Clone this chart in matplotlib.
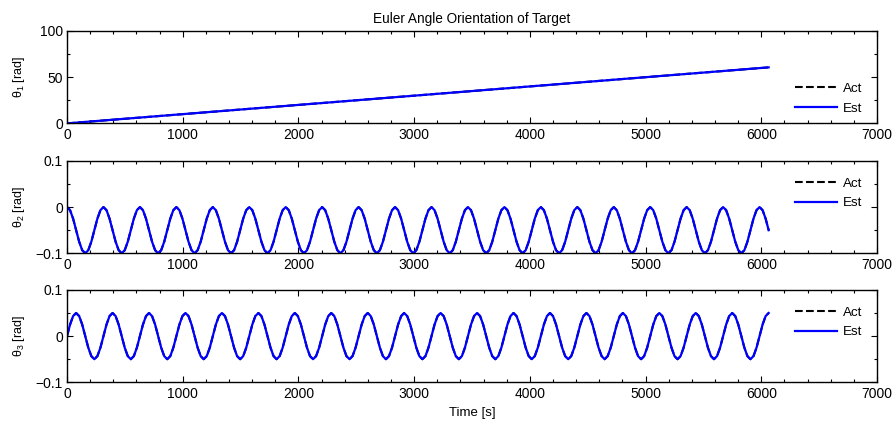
import matplotlib
matplotlib.use("Agg")
import matplotlib.pyplot as plt
from matplotlib.ticker import MultipleLocator, FuncFormatter

plt.rcParams['font.family'] = ['Liberation Sans', 'DejaVu Sans']
plt.rcParams['mathtext.default'] = 'regular'
plt.rcParams['font.size'] = 10

# theta1 : straight ramp
t1 = [0, 6063.75]
theta1_act = [0, 60.6]
theta1_est = [0, 60.6]

# time samples (one period per line, ~315 s period)
t = [
    0, 26.25, 52.5, 78.75, 105, 131.25, 157.5, 183.75, 210, 236.25, 262.5, 288.75,
    315, 341.25, 367.5, 393.75, 420, 446.25, 472.5, 498.75, 525, 551.25, 577.5, 603.75,
    630, 656.25, 682.5, 708.75, 735, 761.25, 787.5, 813.75, 840, 866.25, 892.5, 918.75,
    945, 971.25, 997.5, 1023.75, 1050, 1076.25, 1102.5, 1128.75, 1155, 1181.25, 1207.5, 1233.75,
    1260, 1286.25, 1312.5, 1338.75, 1365, 1391.25, 1417.5, 1443.75, 1470, 1496.25, 1522.5, 1548.75,
    1575, 1601.25, 1627.5, 1653.75, 1680, 1706.25, 1732.5, 1758.75, 1785, 1811.25, 1837.5, 1863.75,
    1890, 1916.25, 1942.5, 1968.75, 1995, 2021.25, 2047.5, 2073.75, 2100, 2126.25, 2152.5, 2178.75,
    2205, 2231.25, 2257.5, 2283.75, 2310, 2336.25, 2362.5, 2388.75, 2415, 2441.25, 2467.5, 2493.75,
    2520, 2546.25, 2572.5, 2598.75, 2625, 2651.25, 2677.5, 2703.75, 2730, 2756.25, 2782.5, 2808.75,
    2835, 2861.25, 2887.5, 2913.75, 2940, 2966.25, 2992.5, 3018.75, 3045, 3071.25, 3097.5, 3123.75,
    3150, 3176.25, 3202.5, 3228.75, 3255, 3281.25, 3307.5, 3333.75, 3360, 3386.25, 3412.5, 3438.75,
    3465, 3491.25, 3517.5, 3543.75, 3570, 3596.25, 3622.5, 3648.75, 3675, 3701.25, 3727.5, 3753.75,
    3780, 3806.25, 3832.5, 3858.75, 3885, 3911.25, 3937.5, 3963.75, 3990, 4016.25, 4042.5, 4068.75,
    4095, 4121.25, 4147.5, 4173.75, 4200, 4226.25, 4252.5, 4278.75, 4305, 4331.25, 4357.5, 4383.75,
    4410, 4436.25, 4462.5, 4488.75, 4515, 4541.25, 4567.5, 4593.75, 4620, 4646.25, 4672.5, 4698.75,
    4725, 4751.25, 4777.5, 4803.75, 4830, 4856.25, 4882.5, 4908.75, 4935, 4961.25, 4987.5, 5013.75,
    5040, 5066.25, 5092.5, 5118.75, 5145, 5171.25, 5197.5, 5223.75, 5250, 5276.25, 5302.5, 5328.75,
    5355, 5381.25, 5407.5, 5433.75, 5460, 5486.25, 5512.5, 5538.75, 5565, 5591.25, 5617.5, 5643.75,
    5670, 5696.25, 5722.5, 5748.75, 5775, 5801.25, 5827.5, 5853.75, 5880, 5906.25, 5932.5, 5958.75,
    5985, 6011.25, 6037.5, 6063.75,
]

theta2 = [
    0, -0.0067, -0.025, -0.05, -0.075, -0.0933, -0.1, -0.0933, -0.075, -0.05, -0.025, -0.0067,
    0, -0.0067, -0.025, -0.05, -0.075, -0.0933, -0.1, -0.0933, -0.075, -0.05, -0.025, -0.0067,
    0, -0.0067, -0.025, -0.05, -0.075, -0.0933, -0.1, -0.0933, -0.075, -0.05, -0.025, -0.0067,
    0, -0.0067, -0.025, -0.05, -0.075, -0.0933, -0.1, -0.0933, -0.075, -0.05, -0.025, -0.0067,
    0, -0.0067, -0.025, -0.05, -0.075, -0.0933, -0.1, -0.0933, -0.075, -0.05, -0.025, -0.0067,
    0, -0.0067, -0.025, -0.05, -0.075, -0.0933, -0.1, -0.0933, -0.075, -0.05, -0.025, -0.0067,
    0, -0.0067, -0.025, -0.05, -0.075, -0.0933, -0.1, -0.0933, -0.075, -0.05, -0.025, -0.0067,
    0, -0.0067, -0.025, -0.05, -0.075, -0.0933, -0.1, -0.0933, -0.075, -0.05, -0.025, -0.0067,
    0, -0.0067, -0.025, -0.05, -0.075, -0.0933, -0.1, -0.0933, -0.075, -0.05, -0.025, -0.0067,
    0, -0.0067, -0.025, -0.05, -0.075, -0.0933, -0.1, -0.0933, -0.075, -0.05, -0.025, -0.0067,
    0, -0.0067, -0.025, -0.05, -0.075, -0.0933, -0.1, -0.0933, -0.075, -0.05, -0.025, -0.0067,
    0, -0.0067, -0.025, -0.05, -0.075, -0.0933, -0.1, -0.0933, -0.075, -0.05, -0.025, -0.0067,
    0, -0.0067, -0.025, -0.05, -0.075, -0.0933, -0.1, -0.0933, -0.075, -0.05, -0.025, -0.0067,
    0, -0.0067, -0.025, -0.05, -0.075, -0.0933, -0.1, -0.0933, -0.075, -0.05, -0.025, -0.0067,
    0, -0.0067, -0.025, -0.05, -0.075, -0.0933, -0.1, -0.0933, -0.075, -0.05, -0.025, -0.0067,
    0, -0.0067, -0.025, -0.05, -0.075, -0.0933, -0.1, -0.0933, -0.075, -0.05, -0.025, -0.0067,
    0, -0.0067, -0.025, -0.05, -0.075, -0.0933, -0.1, -0.0933, -0.075, -0.05, -0.025, -0.0067,
    0, -0.0067, -0.025, -0.05, -0.075, -0.0933, -0.1, -0.0933, -0.075, -0.05, -0.025, -0.0067,
    0, -0.0067, -0.025, -0.05, -0.075, -0.0933, -0.1, -0.0933, -0.075, -0.05, -0.025, -0.0067,
    0, -0.0067, -0.025, -0.05,
]

theta3 = [
    0, 0.025, 0.0433, 0.05, 0.0433, 0.025, 0, -0.025, -0.0433, -0.05, -0.0433, -0.025,
    0, 0.025, 0.0433, 0.05, 0.0433, 0.025, 0, -0.025, -0.0433, -0.05, -0.0433, -0.025,
    0, 0.025, 0.0433, 0.05, 0.0433, 0.025, 0, -0.025, -0.0433, -0.05, -0.0433, -0.025,
    0, 0.025, 0.0433, 0.05, 0.0433, 0.025, 0, -0.025, -0.0433, -0.05, -0.0433, -0.025,
    0, 0.025, 0.0433, 0.05, 0.0433, 0.025, 0, -0.025, -0.0433, -0.05, -0.0433, -0.025,
    0, 0.025, 0.0433, 0.05, 0.0433, 0.025, 0, -0.025, -0.0433, -0.05, -0.0433, -0.025,
    0, 0.025, 0.0433, 0.05, 0.0433, 0.025, 0, -0.025, -0.0433, -0.05, -0.0433, -0.025,
    0, 0.025, 0.0433, 0.05, 0.0433, 0.025, 0, -0.025, -0.0433, -0.05, -0.0433, -0.025,
    0, 0.025, 0.0433, 0.05, 0.0433, 0.025, 0, -0.025, -0.0433, -0.05, -0.0433, -0.025,
    0, 0.025, 0.0433, 0.05, 0.0433, 0.025, 0, -0.025, -0.0433, -0.05, -0.0433, -0.025,
    0, 0.025, 0.0433, 0.05, 0.0433, 0.025, 0, -0.025, -0.0433, -0.05, -0.0433, -0.025,
    0, 0.025, 0.0433, 0.05, 0.0433, 0.025, 0, -0.025, -0.0433, -0.05, -0.0433, -0.025,
    0, 0.025, 0.0433, 0.05, 0.0433, 0.025, 0, -0.025, -0.0433, -0.05, -0.0433, -0.025,
    0, 0.025, 0.0433, 0.05, 0.0433, 0.025, 0, -0.025, -0.0433, -0.05, -0.0433, -0.025,
    0, 0.025, 0.0433, 0.05, 0.0433, 0.025, 0, -0.025, -0.0433, -0.05, -0.0433, -0.025,
    0, 0.025, 0.0433, 0.05, 0.0433, 0.025, 0, -0.025, -0.0433, -0.05, -0.0433, -0.025,
    0, 0.025, 0.0433, 0.05, 0.0433, 0.025, 0, -0.025, -0.0433, -0.05, -0.0433, -0.025,
    0, 0.025, 0.0433, 0.05, 0.0433, 0.025, 0, -0.025, -0.0433, -0.05, -0.0433, -0.025,
    0, 0.025, 0.0433, 0.05, 0.0433, 0.025, 0, -0.025, -0.0433, -0.05, -0.0433, -0.025,
    0, 0.025, 0.0433, 0.05,
]

ylabels = ['θ$_1$ [rad]', 'θ$_2$ [rad]', 'θ$_3$ [rad]']
ylims = [(0, 100), (-0.1, 0.1), (-0.1, 0.1)]
ymajor = [50, 0.1, 0.1]
legend_loc = ['lower right', 'upper right', 'upper right']
legend_anchor = [(0.988, 0.035), (0.988, 0.88), (0.988, 0.88)]

series = [(t1, theta1_act, theta1_est), (t, theta2, theta2), (t, theta3, theta3)]


def fmt(v, pos):
    if abs(v) < 1e-9:
        return '0'
    return ('%g' % v).replace('-', '\u2212')


fig = plt.figure(figsize=(8.96, 4.24), dpi=100)
bottoms = [0.709, 0.4026, 0.0983]
axes = []
for i in range(3):
    ax = fig.add_axes([0.0748, bottoms[i], 0.904, 0.218])
    x, act, est = series[i]
    ax.plot(x, act, 'k--', lw=1.5, label='Act')
    ax.plot(x, est, color='#0000ff', lw=1.6, label='Est')
    ax.set_xlim(0, 7000)
    ax.set_ylim(*ylims[i])
    ax.xaxis.set_major_locator(MultipleLocator(1000))
    ax.xaxis.set_minor_locator(MultipleLocator(200))
    ax.yaxis.set_major_locator(MultipleLocator(ymajor[i]))
    ax.yaxis.set_minor_locator(MultipleLocator(ymajor[i] / 2))
    ax.yaxis.set_major_formatter(FuncFormatter(fmt))
    ax.tick_params(which='both', direction='in', top=True, right=True, width=0.8)
    ax.tick_params(which='major', length=4.5)
    ax.tick_params(which='minor', length=2.5)
    ax.tick_params(axis='x', pad=3.5)
    ax.tick_params(axis='y', pad=3)
    for s in ax.spines.values():
        s.set_linewidth(1.0)
    ax.set_ylabel(ylabels[i], fontsize=9)
    ax.yaxis.set_label_coords(-0.05, 0.5)
    ax.legend(loc=legend_loc[i], bbox_to_anchor=legend_anchor[i], frameon=False, fontsize=9.6,
              handlelength=3.1, labelspacing=0.55, handletextpad=0.45, borderaxespad=0)
    axes.append(ax)

axes[0].set_title('Euler Angle Orientation of Target', fontsize=9.8, pad=6)
axes[2].set_xlabel('Time [s]', fontsize=9.5)
axes[2].xaxis.set_label_coords(0.5, -0.27)

fig.savefig('out.png', dpi=100)
